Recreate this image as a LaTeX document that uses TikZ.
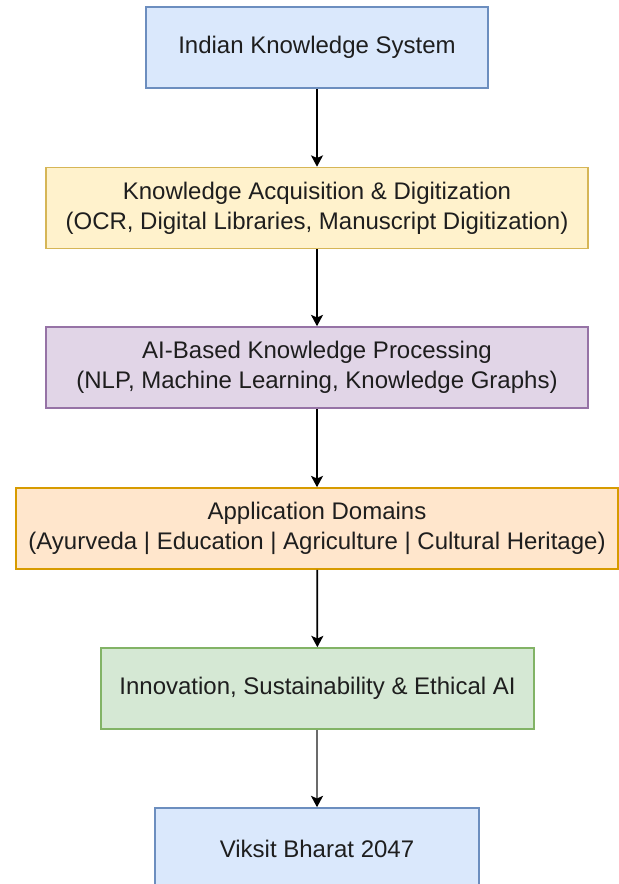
\documentclass[tikz,border=0pt]{standalone}
\usepackage{fontspec}
\setmainfont{Liberation Sans}
\usepackage{xcolor}
\usetikzlibrary{positioning,arrows.meta}

\definecolor{blueFill}{HTML}{DAE8FC}
\definecolor{blueLine}{HTML}{6C8EBF}
\definecolor{yellowFill}{HTML}{FFF2CC}
\definecolor{yellowLine}{HTML}{D6B656}
\definecolor{purpleFill}{HTML}{E1D5E7}
\definecolor{purpleLine}{HTML}{9673A6}
\definecolor{orangeFill}{HTML}{FFE6CC}
\definecolor{orangeLine}{HTML}{D79B00}
\definecolor{greenFill}{HTML}{D5E8D4}
\definecolor{greenLine}{HTML}{82B366}
\definecolor{textGray}{HTML}{1E1E1E}
\definecolor{wireGray}{HTML}{6B6B6B}

\begin{document}
\begin{tikzpicture}[x=0.75pt,y=-0.75pt]
\tikzstyle{every node}+=[inner sep=0pt]
\tikzstyle{box}=[draw, rectangle, line width=1.2pt, minimum height=60.75pt,
  align=center, text=textGray, font=\fontsize{18}{22.5}\selectfont]
\tikzstyle{flow}=[line width=1.3pt, -{Stealth[length=8.5pt,width=9pt,inset=2pt]}]
\useasboundingbox (0,0) rectangle (618,884);
% stages, top to bottom
\node [box, fill=blueFill, draw=blueLine, minimum width=256.5pt] (iks) at (317,47.5) {Indian Knowledge System};
\node [box, fill=yellowFill, draw=yellowLine, minimum width=406.5pt] (acq) at (317,208) {Knowledge Acquisition \& Digitization\\(OCR, Digital Libraries, Manuscript Digitization)};
\node [box, fill=purpleFill, draw=purpleLine, minimum width=406.5pt] (proc) at (317,367.5) {AI-Based Knowledge Processing\\(NLP, Machine Learning, Knowledge Graphs)};
\node [box, fill=orangeFill, draw=orangeLine, minimum width=451.5pt] (apps) at (317,528.5) {Application Domains\\(Ayurveda | Education | Agriculture | Cultural Heritage)};
\node [box, fill=greenFill, draw=greenLine, minimum width=324.75pt] (innov) at (317.5,688.5) {Innovation, Sustainability \& Ethical AI};
\node [box, fill=blueFill, draw=blueLine, minimum width=243pt] (vb) at (317,848.5) {Viksit Bharat 2047};
% arrows
\draw [flow] (iks) -- (acq);
\draw [flow] (acq) -- (proc);
\draw [flow] (proc) -- (apps);
\draw [flow] (apps) -- (innov);
\draw [flow, line width=1.6pt, draw=wireGray, -{Stealth[length=8.5pt,width=9pt,inset=2pt,color=black]}] (innov.south -| vb.north) -- (vb);
\end{tikzpicture}
\end{document}
